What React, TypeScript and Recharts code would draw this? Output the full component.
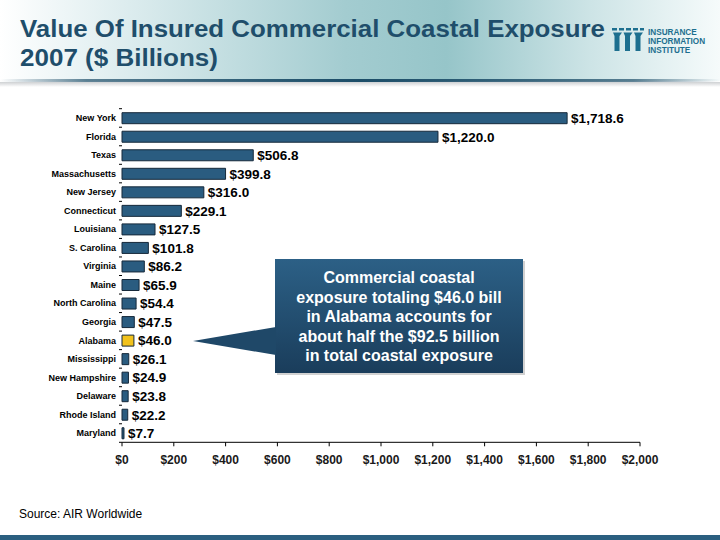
import React from "react";
import { BarChart, Bar, XAxis, YAxis, Cell, LabelList } from "recharts";

// Insured commercial coastal exposure by state, 2007 ($ billions)
const states = [
  "New York",
  "Florida",
  "Texas",
  "Massachusetts",
  "New Jersey",
  "Connecticut",
  "Louisiana",
  "S. Carolina",
  "Virginia",
  "Maine",
  "North Carolina",
  "Georgia",
  "Alabama",
  "Mississippi",
  "New Hampshire",
  "Delaware",
  "Rhode Island",
  "Maryland",
];
const exposure = [
  1718.6, 1220.0, 506.8, 399.8, 316.0, 229.1, 127.5, 101.8, 86.2, 65.9, 54.4,
  47.5, 46.0, 26.1, 24.9, 23.8, 22.2, 7.7,
];
const highlighted = "Alabama";
const xTicks = [0, 200, 400, 600, 800, 1000, 1200, 1400, 1600, 1800, 2000];

const data = states.map((name, i) => ({ name, value: exposure[i] }));

const W = 720;
const H = 540;
const MARGIN = { top: 108.7, right: 80, bottom: 67.7, left: 0 };
const X_AXIS_H = 30;
const Y_AXIS_W = 122;
const PLOT_H = H - MARGIN.top - MARGIN.bottom - X_AXIS_H;
const BAND_HALF = PLOT_H / data.length / 2;

const FONT = "'Liberation Sans', Arial, sans-serif";
const BAR_BLUE = "#2A5C80";
const TITLE_BLUE = "#1F4E6B";
const LOGO_BLUE = "#1d6f8f";

const money = (v: number) =>
  "$" + v.toLocaleString("en-US", { minimumFractionDigits: 1, maximumFractionDigits: 1 });
const moneyTick = (v: number) => "$" + v.toLocaleString("en-US");

function StateTick(props: any) {
  const { x, y, payload, index } = props;
  const last = index === data.length - 1;
  return (
    <g>
      <line x1={x + 3} x2={x + 6} y1={y - BAND_HALF} y2={y - BAND_HALF} stroke="#000" strokeWidth={1} />
      {last && (
        <line x1={x + 3} x2={x + 6} y1={y + BAND_HALF} y2={y + BAND_HALF} stroke="#000" strokeWidth={1} />
      )}
      <text
        x={x}
        y={y}
        dy="0.35em"
        textAnchor="end"
        fontFamily={FONT}
        fontWeight="bold"
        fontSize={9}
        fill="#000"
      >
        {payload.value}
      </text>
    </g>
  );
}

function Header() {
  return (
    <>
      <div
        style={{
          position: "absolute",
          left: 0,
          top: 0,
          width: W,
          height: 81,
          background:
            "linear-gradient(to right, #ffffff 0%, #dcecee 18%, #a3ccd0 48%, #96c5c9 62%, #cde4e6 82%, #f6fbfb 100%)",
        }}
      />
      <div
        style={{
          position: "absolute",
          left: 0,
          top: 79,
          width: W,
          height: 3,
          background:
            "linear-gradient(to right, rgba(31,79,106,0) 0%, rgba(31,79,106,0.7) 12%, #1c4d68 50%, rgba(31,79,106,0.7) 88%, rgba(31,79,106,0) 100%)",
        }}
      />
      <div
        style={{
          position: "absolute",
          left: 0,
          top: 82,
          width: W,
          height: 5,
          background:
            "linear-gradient(to bottom, rgba(60,70,80,0.25), rgba(255,255,255,0))",
        }}
      />
      <svg style={{ position: "absolute", left: 0, top: 0 }} width={W} height={90}>
        <text
          x={20}
          y={37}
          fontFamily={FONT}
          fontWeight="bold"
          fontSize={23}
          fill={TITLE_BLUE}
          textLength={585}
          lengthAdjust="spacingAndGlyphs"
        >
          Value Of Insured Commercial Coastal Exposure
        </text>
        <text
          x={20}
          y={66}
          fontFamily={FONT}
          fontWeight="bold"
          fontSize={23}
          fill={TITLE_BLUE}
          textLength={198}
          lengthAdjust="spacingAndGlyphs"
        >
          2007 ($ Billions)
        </text>
        {/* institute logo */}
        <g fill={LOGO_BLUE}>
          <rect x={612} y={28} width={5} height={2.5} />
          <rect x={619} y={28} width={5} height={2.5} />
          <rect x={626} y={28} width={5} height={2.5} />
          <rect x={633} y={28} width={5} height={2.5} />
          <rect x={640} y={28} width={4} height={2.5} />
          <path d="M613 32.5 L622 32.5 L619.5 36 L619.5 51 L614.5 51 L614.5 36 Z" />
          <path d="M623.5 32.5 L632.5 32.5 L630 36 L630 51 L625 51 L625 36 Z" />
          <path d="M634 32.5 L643 32.5 L640.5 36 L640.5 51 L635.5 51 L635.5 36 Z" />
        </g>
        <g fontFamily={FONT} fontWeight="bold" fontSize={8.2} fill={LOGO_BLUE}>
          <text x={648} y={35}>INSURANCE</text>
          <text x={648} y={44}>INFORMATION</text>
          <text x={648} y={53}>INSTITUTE</text>
        </g>
      </svg>
    </>
  );
}

function Callout() {
  const lines = [
    "Commercial coastal",
    "exposure totaling $46.0 bill",
    "in Alabama accounts for",
    "about half the $92.5 billion",
    "in total coastal exposure",
  ];
  return (
    <svg style={{ position: "absolute", left: 0, top: 0 }} width={W} height={H}>
      <defs>
        <linearGradient id="calloutFill" x1="0" y1="0" x2="0" y2="1">
          <stop offset="0%" stopColor="#2c6086" />
          <stop offset="100%" stopColor="#1a3d5b" />
        </linearGradient>
      </defs>
      <rect x={277} y={261} width={248} height={114} fill="rgba(0,0,0,0.18)" />
      <rect x={275} y={259} width={248} height={114} fill="url(#calloutFill)" />
      <path d="M276 327 L193 341 L276 355 Z" fill="#1f4868" />
      <g fontFamily={FONT} fontWeight="bold" fontSize={16} fill="#ffffff" textAnchor="middle">
        {lines.map((t, i) => (
          <text key={i} x={399} y={283 + i * 19.5}>
            {t}
          </text>
        ))}
      </g>
    </svg>
  );
}

export default function App() {
  return (
    <div
      style={{
        position: "absolute",
        left: 0,
        top: 0,
        width: W,
        height: H,
        background: "#ffffff",
        overflow: "hidden",
      }}
    >
      <Header />
      <div style={{ position: "absolute", left: 0, top: 0 }}>
        <BarChart width={W} height={H} data={data} layout="vertical" margin={MARGIN}>
          <XAxis
            type="number"
            domain={[0, 2000]}
            ticks={xTicks}
            tickFormatter={moneyTick}
            height={X_AXIS_H}
            axisLine={{ stroke: "#000", strokeWidth: 1 }}
            tickLine={{ stroke: "#000" }}
            tickSize={4}
            tickMargin={9}
            interval={0}
            tick={{ fontFamily: FONT, fontSize: 12, fontWeight: "bold", fill: "#1a1a1a" }}
          />
          <YAxis
            type="category"
            dataKey="name"
            width={Y_AXIS_W}
            axisLine={false}
            tickLine={false}
            tickSize={4}
            tickMargin={2}
            interval={0}
            tick={<StateTick />}
          />
          <Bar
            dataKey="value"
            barSize={11}
            stroke="#16293a"
            strokeWidth={1}
            isAnimationActive={false}
          >
            {data.map((d) => (
              <Cell key={d.name} fill={d.name === highlighted ? "#F2C21B" : BAR_BLUE} />
            ))}
            <LabelList
              dataKey="value"
              position="right"
              offset={4}
              formatter={(v: any) => money(Number(v))}
              style={{ fontFamily: FONT, fontWeight: "bold", fontSize: 13.5, fill: "#000" }}
            />
          </Bar>
        </BarChart>
      </div>
      <Callout />
      <div
        style={{
          position: "absolute",
          left: 19,
          top: 507,
          fontFamily: FONT,
          fontSize: 12,
          color: "#000",
        }}
      >
        Source: AIR Worldwide
      </div>
      <div
        style={{
          position: "absolute",
          left: 0,
          top: 535,
          width: W,
          height: 5,
          background: "#2B5F80",
        }}
      />
    </div>
  );
}
